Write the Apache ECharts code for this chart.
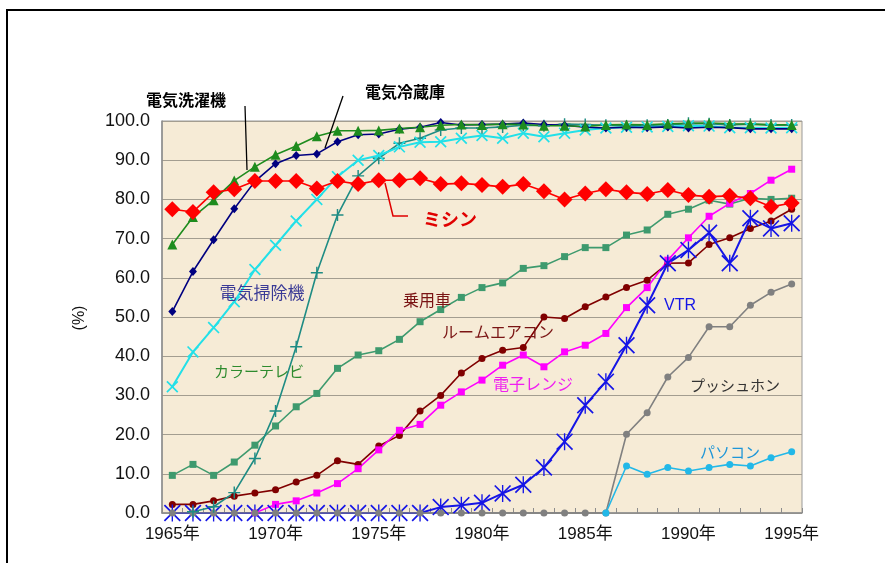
<!DOCTYPE html>
<html>
<head>
<meta charset="utf-8">
<script src="https://cdn.jsdelivr.net/npm/echarts@6/dist/echarts.min.js"></script>
<style>
  html, body { margin: 0; padding: 0; background: #ffffff; }
  #chart { width: 885px; height: 563px; }
</style>
</head>
<body>
<div id="chart"></div>
<script>
// Household ownership rates of durable goods, 1965-1995 (%)
const years = [];
for (let y = 1965; y <= 1995; y++) years.push(String(y));

const washingMachine = [68.5, 75.5, 79.8, 84.8, 88.3, 91.4, 93.6, 96.1, 97.5, 97.5, 97.6,
  98.1, 98.4, 98.9, 99.1, 99.0, 99.2, 99.1, 98.8, 98.8, 98.6,
  99.0, 99.1, 99.0, 99.3, 99.4, 99.5, 99.3, 99.2, 99.0, 99.0];
const refrigerator = [51.4, 61.6, 69.7, 77.6, 84.6, 89.1, 91.2, 91.6, 94.7, 96.5, 96.7,
  97.9, 98.4, 99.6, 99.0, 99.1, 99.2, 99.5, 99.1, 98.9, 98.4,
  98.2, 98.4, 98.3, 98.5, 98.2, 98.4, 98.3, 98.0, 98.0, 98.0];
const vacuumCleaner = [32.2, 41.1, 47.3, 53.9, 62.1, 68.3, 74.5, 80.0, 85.8, 90.0, 91.2,
  93.4, 94.6, 94.7, 95.6, 96.3, 95.6, 96.9, 96.0, 96.9, 97.7,
  98.2, 98.4, 98.5, 98.6, 98.8, 98.7, 98.3, 98.3, 98.2, 98.3];
const colorTV = [null, 0.3, 1.6, 5.2, 13.9, 26.0, 42.4, 61.3, 76.0, 86.0, 90.5,
  94.3, 95.6, 97.7, 98.2, 98.2, 98.5, 98.9, 98.8, 99.2, 99.1,
  98.9, 98.7, 98.9, 99.0, 99.4, 99.3, 99.0, 99.2, 99.0, 99.0];
const sewingMachine = [77.5, 76.8, 81.8, 82.6, 84.7, 84.7, 84.7, 82.8, 84.7, 83.9, 84.9,
  84.9, 85.4, 83.9, 84.1, 83.7, 83.2, 83.9, 82.1, 80.0, 81.5,
  82.6, 81.8, 81.4, 82.4, 81.1, 80.7, 80.9, 80.3, 78.1, 79.1];
const passengerCar = [9.6, 12.4, 9.6, 13.0, 17.3, 22.2, 27.1, 30.5, 36.9, 40.3, 41.4,
  44.3, 48.8, 51.9, 55.0, 57.5, 58.7, 62.4, 63.1, 65.4, 67.7,
  67.7, 70.9, 72.2, 76.2, 77.5, 79.8, 78.8, 80.3, 80.0, 80.3];
const roomAircon = [2.2, 2.2, 3.1, 4.3, 5.1, 5.9, 7.9, 9.6, 13.3, 12.4, 17.1,
  19.8, 26.0, 30.0, 35.7, 39.4, 41.5, 42.2, 50.0, 49.6, 52.6,
  55.1, 57.5, 59.4, 63.7, 63.8, 68.5, 70.2, 72.6, 74.5, 77.5];
const microwave = [null, null, null, null, 0.0, 2.2, 3.1, 5.1, 7.5, 11.3, 16.1,
  21.1, 22.6, 27.5, 30.9, 33.9, 37.7, 40.3, 37.3, 41.1, 42.8,
  45.8, 52.4, 57.5, 64.5, 70.2, 75.7, 79.0, 81.5, 84.9, 87.7];
const vtr = [0, 0, 0, 0, 0, 0, 0, 0, 0, 0, 0,
  0, 0, 1.5, 2.0, 2.6, 5.0, 7.2, 11.6, 18.2, 27.5,
  33.5, 42.8, 53.0, 63.7, 67.1, 71.5, 63.7, 75.2, 72.6, 73.9];
const pushPhone = [0, 0, 0, 0, 0, 0, 0, 0, 0, 0, 0,
  0, 0, 0, 0, 0, 0, 0, 0, 0, 0,
  0, 20.1, 25.6, 34.7, 39.7, 47.5, 47.5, 53.0, 56.3, 58.4];
const personalComputer = [null, null, null, null, null, null, null, null, null, null, null,
  null, null, null, null, null, null, null, null, null, null,
  0, 12.0, 9.9, 11.6, 10.7, 11.6, 12.4, 12.0, 14.1, 15.6];

const yTicks = [0, 10, 20, 30, 40, 50, 60, 70, 80, 90, 100];

// marker shapes
const PLUS = 'path://M0,4.4H10V5.6H0Z M4.4,0H5.6V10H4.4Z';
const CROSS = 'path://M0,1L1,0L10,9L9,10Z M9,0L10,1L1,10L0,9Z';
const STAR = 'path://M0,0.7L0.7,0L10,9.3L9.3,10Z M9.3,0L10,0.7L0.7,10L0,9.3Z M4.6,0H5.4V10H4.6Z';

function line(name, data, color, symbol, size, width) {
  return {
    name: name, type: 'line', data: data,
    symbol: symbol, symbolSize: size,
    showSymbol: true, showAllSymbol: true, connectNulls: false, animation: false,
    lineStyle: { color: color, width: width || 1.6 },
    itemStyle: { color: color, borderWidth: 0, opacity: 1 },
    emphasis: { disabled: true }
  };
}

const JP = '"Noto Sans CJK JP", sans-serif';
const NUM = '"Liberation Sans", "Noto Sans CJK JP", sans-serif';

function label(text, x, y, color, size, weight, family) {
  return {
    type: 'text', z: 100,
    style: {
      text: text, x: x, y: y, fill: color,
      font: (weight || 'normal') + ' ' + size + 'px ' + (family || JP),
      textAlign: 'center', textVerticalAlign: 'middle'
    }
  };
}

const chart = echarts.init(document.getElementById('chart'), null, { renderer: 'canvas' });
chart.setOption({
  backgroundColor: '#ffffff',
  animation: false,
  grid: {
    left: 162, right: 83, top: 121, bottom: 50,
    show: true, backgroundColor: '#F6EBD6', borderColor: '#999999', borderWidth: 1
  },
  xAxis: {
    type: 'category', data: years, boundaryGap: true,
    axisLine: { lineStyle: { color: '#8c8c8c', width: 1.5 } },
    axisTick: { show: true, inside: true, interval: 0, length: 5, lineStyle: { color: '#8c8c8c' } },
    axisLabel: {
      interval: 4, margin: 13, color: '#111', fontSize: 17, fontFamily: NUM,
      formatter: function (v) { return v + '年'; }
    },
    splitLine: { show: false }
  },
  yAxis: {
    type: 'value', min: yTicks[0], max: yTicks[yTicks.length - 1], interval: 10,
    axisLine: { show: true, lineStyle: { color: '#8c8c8c', width: 1.5 } },
    axisTick: { show: false },
    axisLabel: {
      margin: 12, color: '#111', fontSize: 18, fontFamily: NUM,
      formatter: function (v) { return v.toFixed(1); }
    },
    splitLine: { lineStyle: { color: '#a39d90', width: 1 } }
  },
  series: [
    line('乗用車', passengerCar, '#3E9A6E', 'rect', 7),
    line('ルームエアコン', roomAircon, '#800000', 'circle', 7),
    line('電子レンジ', microwave, '#FF00FF', 'rect', 7),
    line('VTR', vtr, '#1515E6', STAR, 17, 2),
    line('プッシュホン', pushPhone, '#808080', 'circle', 7),
    line('パソコン', personalComputer, '#22B8E8', 'circle', 7),
    line('カラーテレビ', colorTV, '#1F8C84', PLUS, 12),
    line('電気掃除機', vacuumCleaner, '#22E0E8', CROSS, 12, 2),
    line('電気冷蔵庫', refrigerator, '#000080', 'diamond', [8, 9]),
    line('電気洗濯機', washingMachine, '#1E8C1E', 'triangle', 10),
    line('ミシン', sewingMachine, '#FF0000', 'diamond', 16)
  ],
  graphic: [
    // outer frame
    { type: 'rect', z: 100, shape: { x: 7, y: 10, width: 900, height: 600 },
      style: { fill: 'none', stroke: '#000', lineWidth: 2 } },
    // y axis unit
    { type: 'text', z: 100, x: 80, y: 318, rotation: Math.PI / 2,
      style: { text: '(%)', x: 0, y: 0, fill: '#111', font: '16px ' + NUM,
        textAlign: 'center', textVerticalAlign: 'middle' } },
    // leader lines
    { type: 'polyline', z: 100, shape: { points: [[245, 106], [247, 170]] },
      style: { stroke: '#000', lineWidth: 1.3, fill: 'none' } },
    { type: 'polyline', z: 100, shape: { points: [[343, 96], [325, 148]] },
      style: { stroke: '#000', lineWidth: 1.3, fill: 'none' } },
    { type: 'polyline', z: 100, shape: { points: [[385, 183], [393, 216], [408, 216]] },
      style: { stroke: '#E00000', lineWidth: 1.5, fill: 'none' } },
    // series names
    label('電気洗濯機', 186, 100, '#000', 16, 'bold'),
    label('電気冷蔵庫', 405, 92, '#000', 16, 'bold'),
    label('ミシン', 450, 219, '#E00000', 18, 'bold'),
    label('電気掃除機', 262, 293, '#3A3A96', 17),
    label('カラーテレビ', 259, 371, '#2E8B2E', 15),
    label('乗用車', 427, 300, '#7A1414', 16),
    label('ルームエアコン', 498, 332, '#7A1414', 16),
    label('電子レンジ', 533, 384, '#F020F0', 16),
    label('VTR', 680, 306, '#1515E6', 16, 'normal', NUM),
    label('プッシュホン', 735, 385, '#333333', 15),
    label('パソコン', 730, 452, '#1E96D8', 15)
  ]
});
</script>
</body>
</html>
